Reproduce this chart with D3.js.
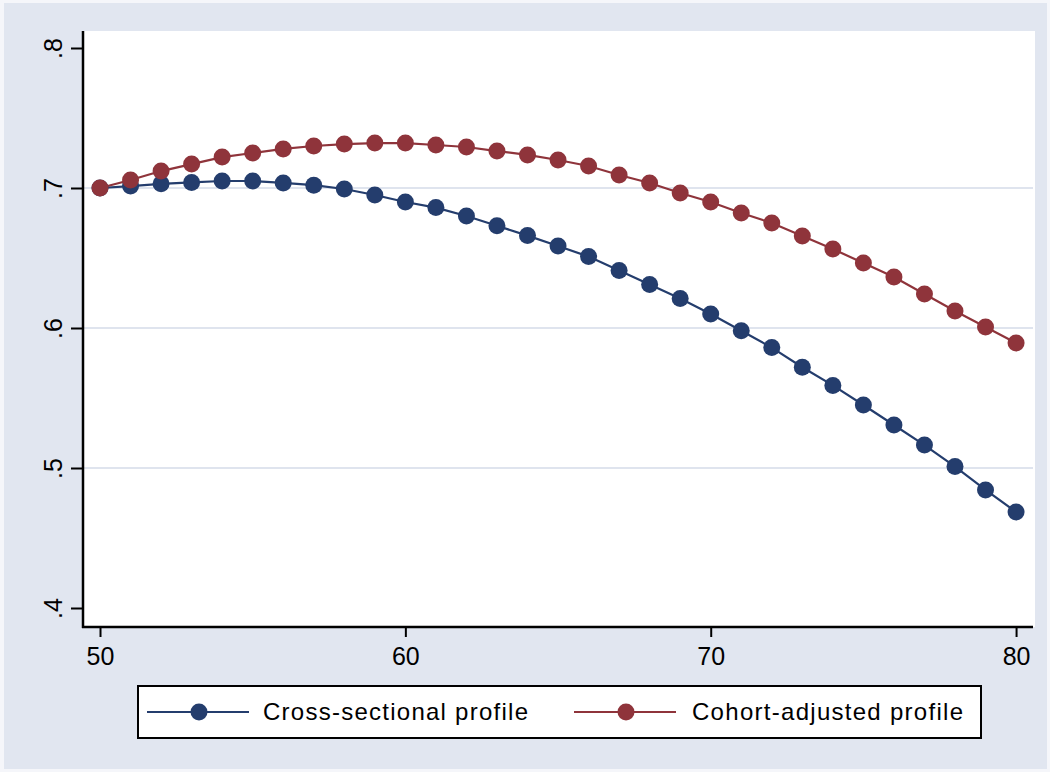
<!DOCTYPE html>
<html>
<head>
<meta charset="utf-8">
<script src="https://cdn.jsdelivr.net/npm/d3@7"></script>
<style>
  body { margin: 0; background: #f5f6fa; }
  text { font-family: "Liberation Sans", Arial, sans-serif; fill: #000; }
</style>
</head>
<body>
<div id="chart"></div>
<script>
// Data
var ages = d3.range(50, 81);
var crossSectional = [0.700, 0.7014, 0.703, 0.704, 0.705, 0.705, 0.7036, 0.702, 0.6993, 0.695,
  0.690, 0.686, 0.680, 0.673, 0.666, 0.6586, 0.651, 0.641, 0.631, 0.621,
  0.610, 0.598, 0.586, 0.572, 0.559, 0.545, 0.5307, 0.5164, 0.501, 0.4843, 0.4686];
var cohortAdjusted = [0.700, 0.7057, 0.7121, 0.7171, 0.7221, 0.725, 0.7279, 0.730, 0.7314, 0.7321,
  0.7321, 0.7307, 0.7293, 0.7264, 0.7236, 0.720, 0.7157, 0.7093, 0.7036, 0.6964,
  0.690, 0.6821, 0.675, 0.6657, 0.6564, 0.6464, 0.6364, 0.6243, 0.6121, 0.6007, 0.5893];
var seriesNames = ["Cross-sectional profile", "Cohort-adjusted profile"];
var seriesColors = ["#243d6d", "#8f343b"];
var yTicks = [0.4, 0.5, 0.6, 0.7, 0.8];
var xTicks = [50, 60, 70, 80];
var gridTicks = [0.5, 0.6, 0.7];

var svgWidth = 1050;
var svgHeight = 772;

// plot region in pixels
var plot = { left: 83, right: 1035, top: 31, bottom: 627 };

var svg = d3.select("#chart")
  .append("svg")
  .attr("width", svgWidth)
  .attr("height", svgHeight);

// outer background
svg.append("rect")
  .attr("x", 4).attr("y", 3)
  .attr("width", svgWidth - 7).attr("height", svgHeight - 6)
  .attr("fill", "#e1e6f0");

svg.append("rect")
  .attr("x", plot.left).attr("y", plot.top)
  .attr("width", plot.right - plot.left).attr("height", plot.bottom - plot.top)
  .attr("fill", "#ffffff");

var x = d3.scaleLinear()
  .domain([49.443, 80.62])
  .range([plot.left, plot.right]);

var y = d3.scaleLinear()
  .domain([0.38643, 0.81214])
  .range([plot.bottom, plot.top]);

// gridlines
svg.append("g")
  .selectAll("line")
  .data(gridTicks)
  .enter()
  .append("line")
  .attr("x1", plot.left)
  .attr("x2", plot.right - 2)
  .attr("y1", d => y(d))
  .attr("y2", d => y(d))
  .attr("stroke", "#dfe4ee")
  .attr("stroke-width", 2);

// axes
var leftAxis = d3.axisLeft(y).tickValues(yTicks).tickSize(12).tickPadding(8)
  .tickFormat(d => d3.format(".1f")(d).replace(/^0/, ""));
var bottomAxis = d3.axisBottom(x).tickValues(xTicks).tickSize(10).tickPadding(8);

var gy = svg.append("g")
  .attr("transform", `translate(${plot.left}, 0)`)
  .call(leftAxis);
gy.select(".domain").remove();
gy.selectAll("line").attr("stroke", "#000").attr("stroke-width", 2);
gy.selectAll("text")
  .attr("x", 0).attr("y", 0).attr("dy", null)
  .attr("transform", "translate(-21, 0) rotate(-90)")
  .attr("text-anchor", "middle")
  .attr("font-size", 25)
  .attr("font-family", "Liberation Sans, Arial, sans-serif");

var gx = svg.append("g")
  .attr("transform", `translate(0, ${plot.bottom})`)
  .call(bottomAxis);
gx.select(".domain").remove();
gx.selectAll("line").attr("stroke", "#000").attr("stroke-width", 2);
gx.selectAll("text")
  .attr("y", 38).attr("dy", null)
  .attr("font-size", 25)
  .attr("font-family", "Liberation Sans, Arial, sans-serif");

// axis lines
svg.append("line")
  .attr("x1", plot.left).attr("x2", plot.left)
  .attr("y1", plot.top).attr("y2", plot.bottom + 1)
  .attr("stroke", "#000").attr("stroke-width", 2.5);
svg.append("line")
  .attr("x1", plot.left - 1).attr("x2", plot.right - 2)
  .attr("y1", plot.bottom).attr("y2", plot.bottom)
  .attr("stroke", "#000").attr("stroke-width", 2.5);

// series
var series = [crossSectional, cohortAdjusted];
var line = d3.line()
  .x((d, i) => x(ages[i]))
  .y(d => y(d));

series.forEach(function(values, s) {
  svg.append("path")
    .datum(values)
    .attr("d", line)
    .attr("fill", "none")
    .attr("stroke", seriesColors[s])
    .attr("stroke-width", 2.2);
});
series.forEach(function(values, s) {
  svg.append("g")
    .selectAll("circle")
    .data(values)
    .enter()
    .append("circle")
    .attr("cx", (d, i) => x(ages[i]))
    .attr("cy", d => y(d))
    .attr("r", 8.5)
    .attr("fill", seriesColors[s]);
});

// legend
var legend = svg.append("g");
legend.append("rect")
  .attr("x", 138).attr("y", 686)
  .attr("width", 843).attr("height", 52)
  .attr("fill", "#fff")
  .attr("stroke", "#000")
  .attr("stroke-width", 2);

var legendItems = [
  { lineX: 147, textX: 263, width: 265 },
  { lineX: 574, textX: 692, width: 271 }
];
legendItems.forEach(function(item, s) {
  legend.append("line")
    .attr("x1", item.lineX).attr("x2", item.lineX + 102)
    .attr("y1", 712).attr("y2", 712)
    .attr("stroke", seriesColors[s])
    .attr("stroke-width", 2.2);
  legend.append("circle")
    .attr("cx", item.lineX + 52).attr("cy", 712)
    .attr("r", 8.5)
    .attr("fill", seriesColors[s]);
  legend.append("text")
    .attr("x", item.textX).attr("y", 720)
    .attr("font-size", 24)
    .attr("textLength", item.width)
    .attr("lengthAdjust", "spacing")
    .text(seriesNames[s]);
});
</script>
</body>
</html>
